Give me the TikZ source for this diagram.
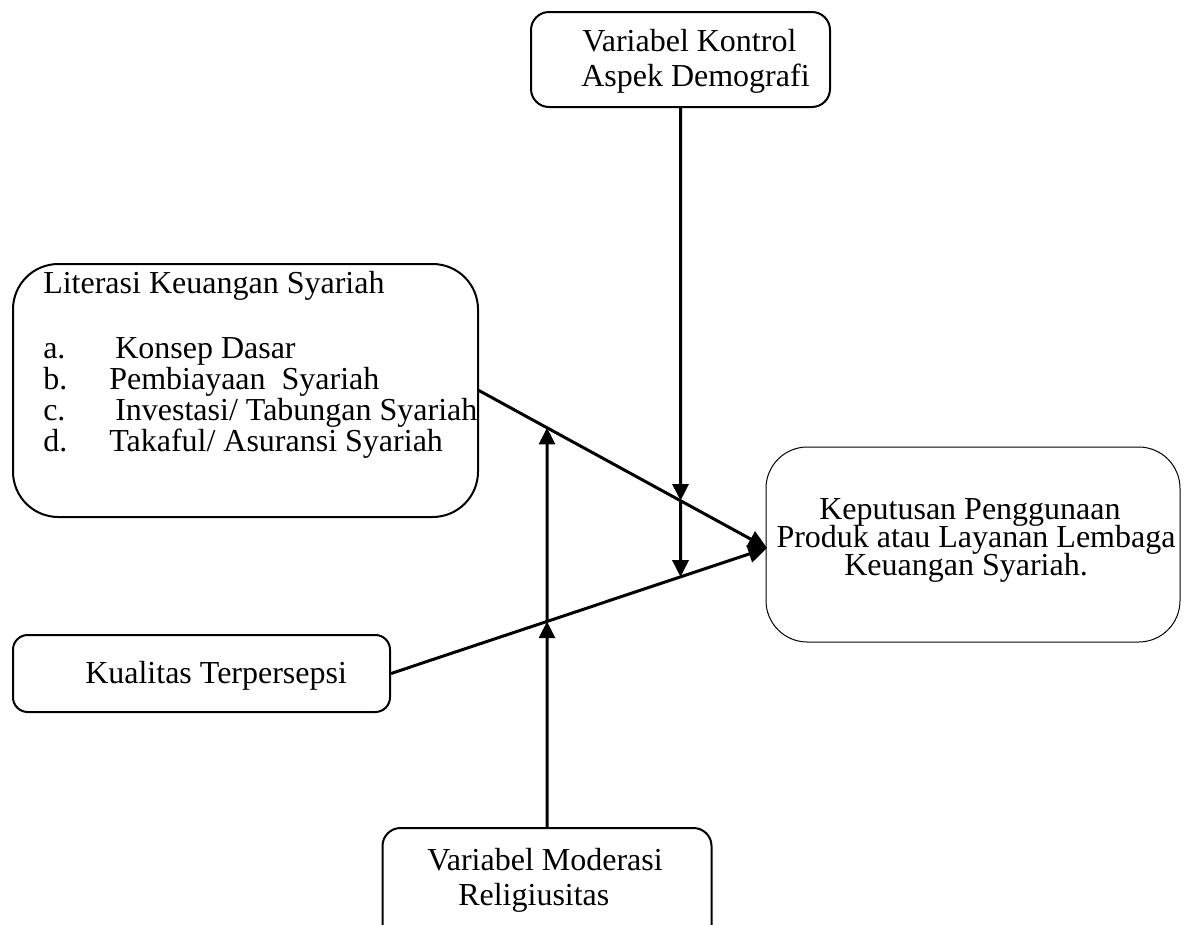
\documentclass[tikz,border=0pt]{standalone}
\usepackage{fontspec}
\setmainfont{Liberation Serif}
\usetikzlibrary{arrows.meta}
\begin{document}
\begin{tikzpicture}[x=0.75pt,y=-0.75pt,
  font=\fontsize{24}{28}\selectfont,
  box/.style={draw,line width=1.5pt,inner sep=0pt},
  txt/.style={anchor=base west,inner sep=0pt},
  ctxt/.style={anchor=base,inner sep=0pt},
  conn/.style={line width=2.25pt},
  vtip/.style={-{Triangle[length=12.5pt,width=12pt]}},
  mtip/.style={-{Triangle[length=14pt,width=13pt]}}]
\useasboundingbox (0,0) rectangle (1186,925);
\clip (0,0) rectangle (1186,925);
% boxes
\node[box,rounded corners=13.5pt,minimum width=224.25pt,minimum height=71.25pt] (kon) at (680.5,59.5) {};
\node[box,rounded corners=34pt,minimum width=348.75pt,minimum height=189.75pt] (lit) at (245.5,390.5) {};
\node[box,line width=0.75pt,rounded corners=31pt,minimum width=310.5pt,minimum height=146.25pt] (kep) at (973,544.5) {};
\node[box,rounded corners=11pt,minimum width=282.75pt,minimum height=57.75pt] (kua) at (201.5,673.5) {};
\node[box,rounded corners=13.5pt,minimum width=246.75pt,minimum height=99pt] (mod) at (547,894) {};
% texts
\node[txt] (kon1) at (582,51) {Variabel Kontrol};
\node[txt] (kon2) at (581,86) {Aspek Demografi};
\node[txt] (lit0) at (43,293) {Literasi Keuangan Syariah};
\node[txt] (la) at (43,358) {a.};
\node[txt] (la2) at (115,358) {Konsep Dasar};
\node[txt] (lb) at (43,389) {b.};
\node[txt] (lb2) at (109,389) {Pembiayaan\ \ Syariah};
\node[txt] (lc) at (43,420) {c.};
\node[txt] (lc2) at (115,420) {Investasi/ Tabungan Syariah};
\node[txt] (ld) at (43,451) {d.};
\node[txt] (ld2) at (109,451) {Takaful/ Asuransi Syariah};
\node[ctxt] (kep1) at (970,519) {Keputusan Penggunaan};
\node[ctxt] (kep2) at (976,547) {Produk atau Layanan Lembaga};
\node[ctxt] (kep3) at (966,575) {Keuangan Syariah.};
\node[txt] (kua1) at (85,683) {Kualitas Terpersepsi};
\node[txt] (mod1) at (427,870) {Variabel Moderasi};
\node[txt] (mod2) at (458,905) {Religiusitas};
% connector points
\coordinate (s1) at (478,390);
\coordinate (s2) at (kua.east);
\coordinate (t) at (767,548);
\coordinate (kt) at (kon.south);
\coordinate (kb) at (kt |- kua.south);
\coordinate (mt) at (mod.north);
\coordinate (mb) at (mt |- kon.south);
\coordinate (i1) at (intersection of s1--t and kt--kb);
\coordinate (i2) at (intersection of s2--t and kt--kb);
\coordinate (i3) at (intersection of s2--t and mt--mb);
\coordinate (i4) at (intersection of s1--t and mt--mb);
% connectors
\draw[conn,mtip] (s1) -- (t);
\draw[conn,mtip] (s2) -- (t);
\draw[conn,vtip] (kt) -- (i1);
\draw[conn,vtip] (i1) -- (i2);
\draw[conn,vtip] (mt) -- (i3);
\draw[conn,vtip] (i3) -- (i4);
\end{tikzpicture}
\end{document}
